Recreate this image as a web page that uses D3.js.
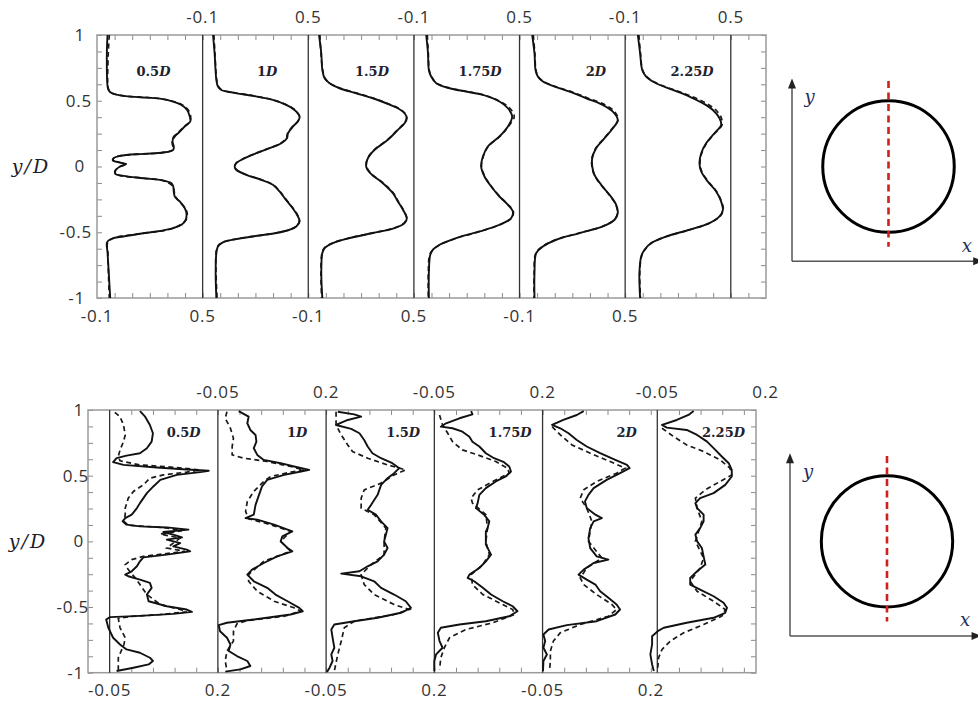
<!DOCTYPE html>
<html><head><meta charset="utf-8">
<script src="https://cdn.jsdelivr.net/npm/d3@7/dist/d3.min.js"></script>
<style>body{margin:0;background:#fff;}svg{display:block;}</style>
</head><body>
<script>
// ---------------- DATA ----------------
const stations = ["0.5", "1", "1.5", "1.75", "2", "2.25"];   // x/D
const yTickLabels = [1, 0.5, 0, -0.5, -1];
const topXRange = [-0.1, 0.5];
const botXRange = [-0.05, 0.2];
const topXLabels = ["-0.1", "0.5"];
const botXLabels = ["-0.05", "0.2"];

// each point: [y/D, value]
const top05Solid = [[1.0,-0.040],[0.86,-0.044],[0.61,-0.040],[0.58,-0.034],[0.557,-0.015],[0.537,0.050],[0.527,0.145],[0.516,0.257],[0.494,0.333],[0.468,0.380],[0.430,0.412],[0.380,0.427],[0.342,0.430],[0.304,0.398],[0.253,0.361],[0.228,0.336],[0.190,0.329],[0.152,0.336],[0.127,0.333],[0.106,0.276],[0.096,0.163],[0.081,0.032],[0.063,-0.006],[0.046,-0.010],[0.030,0.032],[0.018,0.066],[0.000,0.032],[-0.030,0.004],[-0.056,0.004],[-0.071,0.050],[-0.089,0.163],[-0.106,0.276],[-0.127,0.323],[-0.152,0.333],[-0.190,0.336],[-0.228,0.342],[-0.266,0.370],[-0.316,0.398],[-0.354,0.408],[-0.405,0.404],[-0.443,0.380],[-0.468,0.333],[-0.494,0.239],[-0.511,0.145],[-0.532,0.050],[-0.544,-0.006],[-0.562,-0.034],[-0.582,-0.044],[-0.658,-0.040],[-1.0,-0.025]];
const top05Dashed = [[1.0,-0.030],[0.86,-0.036],[0.61,-0.038],[0.58,-0.032],[0.557,-0.012],[0.537,0.055],[0.516,0.260],[0.494,0.335],[0.468,0.385],[0.430,0.418],[0.380,0.432],[0.342,0.428],[0.304,0.396],[0.253,0.358],[0.190,0.327],[0.127,0.331],[0.106,0.270],[0.081,0.030],[0.063,-0.004],[0.046,-0.008],[0.018,0.062],[0.000,0.030],[-0.030,0.006],[-0.056,0.006],[-0.089,0.160],[-0.106,0.272],[-0.152,0.331],[-0.228,0.345],[-0.316,0.400],[-0.354,0.412],[-0.405,0.406],[-0.468,0.335],[-0.511,0.148],[-0.544,-0.004],[-0.582,-0.040],[-0.658,-0.038],[-0.85,-0.034],[-1.0,-0.030]];
const top1Solid = [[1.0,-0.041],[0.861,-0.032],[0.658,-0.022],[0.608,-0.013],[0.582,0.006],[0.562,0.072],[0.537,0.186],[0.506,0.299],[0.468,0.375],[0.430,0.422],[0.380,0.451],[0.342,0.441],[0.304,0.413],[0.253,0.385],[0.215,0.379],[0.177,0.347],[0.139,0.280],[0.101,0.205],[0.063,0.139],[0.025,0.091],[0.000,0.082],[-0.025,0.091],[-0.063,0.148],[-0.101,0.233],[-0.139,0.299],[-0.190,0.337],[-0.241,0.366],[-0.304,0.404],[-0.367,0.436],[-0.418,0.451],[-0.456,0.432],[-0.481,0.394],[-0.506,0.318],[-0.532,0.186],[-0.552,0.091],[-0.577,0.015],[-0.608,-0.013],[-0.658,-0.022],[-0.810,-0.026],[-1.0,-0.022]];
const top1Dashed = [[1.0,-0.036],[0.861,-0.030],[0.658,-0.020],[0.608,-0.010],[0.582,0.010],[0.562,0.076],[0.537,0.190],[0.506,0.302],[0.468,0.378],[0.430,0.425],[0.380,0.449],[0.342,0.440],[0.304,0.410],[0.253,0.383],[0.215,0.375],[0.177,0.344],[0.139,0.278],[0.101,0.203],[0.063,0.137],[0.025,0.090],[0.000,0.084],[-0.025,0.093],[-0.063,0.150],[-0.101,0.235],[-0.139,0.300],[-0.190,0.339],[-0.241,0.368],[-0.304,0.406],[-0.367,0.438],[-0.418,0.449],[-0.456,0.430],[-0.481,0.392],[-0.506,0.315],[-0.532,0.183],[-0.552,0.088],[-0.577,0.013],[-0.608,-0.015],[-0.658,-0.024],[-0.810,-0.024],[-1.0,-0.018]];
const top15Solid = [[1.0,-0.039],[0.861,-0.026],[0.734,-0.020],[0.671,-0.007],[0.633,0.021],[0.595,0.078],[0.557,0.173],[0.519,0.267],[0.481,0.343],[0.443,0.409],[0.405,0.447],[0.367,0.460],[0.329,0.447],[0.278,0.409],[0.203,0.352],[0.127,0.277],[0.063,0.239],[0.000,0.229],[-0.051,0.252],[-0.127,0.324],[-0.203,0.381],[-0.266,0.409],[-0.329,0.438],[-0.392,0.460],[-0.430,0.447],[-0.468,0.390],[-0.506,0.267],[-0.544,0.135],[-0.582,0.040],[-0.620,-0.007],[-0.658,-0.020],[-0.810,-0.026],[-1.0,-0.020]];
const top15Dashed = [[1.0,-0.034],[0.861,-0.028],[0.734,-0.018],[0.671,-0.005],[0.633,0.024],[0.595,0.082],[0.557,0.177],[0.519,0.271],[0.481,0.347],[0.443,0.412],[0.405,0.449],[0.367,0.458],[0.329,0.444],[0.278,0.406],[0.203,0.349],[0.127,0.275],[0.063,0.237],[0.000,0.231],[-0.051,0.255],[-0.127,0.327],[-0.203,0.384],[-0.266,0.411],[-0.329,0.440],[-0.392,0.458],[-0.430,0.444],[-0.468,0.387],[-0.506,0.264],[-0.544,0.132],[-0.582,0.038],[-0.620,-0.009],[-0.658,-0.022],[-0.810,-0.028],[-1.0,-0.024]];
const top175Solid = [[1.0,-0.030],[0.861,-0.020],[0.734,-0.015],[0.684,-0.002],[0.633,0.027],[0.595,0.103],[0.570,0.197],[0.544,0.292],[0.494,0.386],[0.443,0.434],[0.380,0.458],[0.304,0.434],[0.228,0.386],[0.152,0.320],[0.076,0.292],[0.000,0.282],[-0.076,0.301],[-0.152,0.339],[-0.228,0.386],[-0.291,0.434],[-0.342,0.462],[-0.392,0.453],[-0.443,0.386],[-0.494,0.273],[-0.544,0.140],[-0.595,0.046],[-0.633,0.008],[-0.671,-0.007],[-0.810,-0.015],[-1.0,-0.015]];
const top175Dashed = [[1.0,-0.024],[0.861,-0.018],[0.734,-0.013],[0.684,0.000],[0.633,0.030],[0.595,0.107],[0.570,0.200],[0.544,0.296],[0.494,0.390],[0.443,0.445],[0.380,0.470],[0.304,0.436],[0.228,0.388],[0.152,0.322],[0.076,0.294],[0.000,0.284],[-0.076,0.303],[-0.152,0.341],[-0.228,0.388],[-0.291,0.436],[-0.342,0.465],[-0.392,0.455],[-0.443,0.388],[-0.494,0.275],[-0.544,0.143],[-0.595,0.049],[-0.633,0.010],[-0.671,-0.010],[-0.810,-0.018],[-1.0,-0.018]];
const top2Solid = [[1.0,-0.028],[0.861,-0.015],[0.734,-0.009],[0.684,0.004],[0.646,0.033],[0.608,0.099],[0.570,0.184],[0.519,0.279],[0.468,0.373],[0.418,0.430],[0.354,0.458],[0.291,0.430],[0.215,0.383],[0.139,0.335],[0.063,0.313],[0.000,0.313],[-0.063,0.326],[-0.139,0.364],[-0.215,0.411],[-0.291,0.449],[-0.354,0.458],[-0.405,0.440],[-0.456,0.373],[-0.506,0.241],[-0.557,0.108],[-0.608,0.033],[-0.658,-0.005],[-0.810,-0.015],[-1.0,-0.015]];
const top2Dashed = [[1.0,-0.022],[0.861,-0.013],[0.734,-0.007],[0.684,0.006],[0.646,0.036],[0.608,0.104],[0.570,0.192],[0.519,0.290],[0.468,0.388],[0.418,0.440],[0.354,0.460],[0.291,0.428],[0.215,0.381],[0.139,0.333],[0.063,0.311],[0.000,0.311],[-0.063,0.324],[-0.139,0.362],[-0.215,0.409],[-0.291,0.447],[-0.354,0.456],[-0.405,0.438],[-0.456,0.371],[-0.506,0.239],[-0.557,0.106],[-0.608,0.031],[-0.658,-0.007],[-0.810,-0.017],[-1.0,-0.017]];
const top225Solid = [[1.0,-0.028],[0.861,-0.015],[0.734,-0.003],[0.684,0.019],[0.633,0.076],[0.582,0.171],[0.532,0.265],[0.481,0.341],[0.430,0.398],[0.367,0.436],[0.316,0.445],[0.253,0.407],[0.177,0.360],[0.101,0.332],[0.025,0.322],[-0.038,0.332],[-0.114,0.369],[-0.190,0.417],[-0.266,0.445],[-0.329,0.455],[-0.380,0.436],[-0.430,0.379],[-0.481,0.265],[-0.532,0.133],[-0.582,0.048],[-0.633,0.010],[-0.684,-0.009],[-0.810,-0.019],[-1.0,-0.015]];
const top225Dashed = [[1.0,-0.022],[0.861,-0.013],[0.734,-0.001],[0.684,0.022],[0.633,0.080],[0.582,0.180],[0.532,0.280],[0.481,0.360],[0.430,0.415],[0.367,0.447],[0.316,0.450],[0.253,0.410],[0.177,0.362],[0.101,0.335],[0.025,0.325],[-0.038,0.335],[-0.114,0.372],[-0.190,0.419],[-0.266,0.447],[-0.329,0.457],[-0.380,0.438],[-0.430,0.381],[-0.481,0.268],[-0.532,0.136],[-0.582,0.050],[-0.633,0.012],[-0.684,-0.007],[-0.810,-0.017],[-1.0,-0.013]];

const bot05Solid = [[0.992,0.020],[0.949,0.032],[0.886,0.043],[0.823,0.050],[0.759,0.047],[0.709,0.036],[0.671,0.020],[0.653,-0.011],[0.633,-0.034],[0.603,-0.042],[0.582,-0.018],[0.562,0.059],[0.547,0.128],[0.537,0.179],[0.527,0.159],[0.506,0.105],[0.468,0.067],[0.418,0.051],[0.367,0.036],[0.329,0.028],[0.291,0.020],[0.253,0.013],[0.203,0.001],[0.177,-0.014],[0.152,-0.020],[0.127,-0.011],[0.114,0.020],[0.106,0.082],[0.089,0.132],[0.071,0.074],[0.051,0.097],[0.030,0.117],[0.013,0.082],[-0.013,0.113],[-0.038,0.097],[-0.063,0.128],[-0.076,0.136],[-0.101,0.082],[-0.122,0.028],[-0.152,0.020],[-0.190,0.013],[-0.228,0.001],[-0.253,-0.014],[-0.266,-0.007],[-0.291,0.020],[-0.316,0.043],[-0.354,0.047],[-0.405,0.036],[-0.456,0.040],[-0.494,0.082],[-0.519,0.128],[-0.537,0.140],[-0.552,0.097],[-0.567,0.020],[-0.577,-0.049],[-0.595,-0.058],[-0.658,-0.053],[-0.734,-0.042],[-0.785,-0.026],[-0.823,-0.011],[-0.848,0.020],[-0.886,0.043],[-0.911,0.050],[-0.937,0.040],[-0.962,0.005],[-0.987,-0.034]];
const bot05Dashed = [[0.982,-0.038],[0.949,-0.026],[0.886,-0.018],[0.810,-0.014],[0.759,-0.018],[0.696,-0.026],[0.646,-0.030],[0.613,-0.026],[0.582,0.020],[0.562,0.105],[0.544,0.159],[0.527,0.128],[0.506,0.074],[0.481,0.043],[0.430,0.028],[0.380,0.005],[0.329,-0.007],[0.253,-0.014],[0.203,-0.014],[0.152,-0.017],[0.122,-0.007],[0.106,0.074],[0.081,0.117],[0.056,0.067],[0.025,0.113],[-0.013,0.097],[-0.051,0.082],[-0.076,0.124],[-0.114,0.028],[-0.139,0.001],[-0.177,-0.014],[-0.215,-0.007],[-0.278,0.009],[-0.329,0.020],[-0.405,0.036],[-0.481,0.067],[-0.519,0.113],[-0.537,0.128],[-0.557,0.067],[-0.572,-0.003],[-0.587,-0.030],[-0.658,-0.026],[-0.734,-0.014],[-0.785,-0.017],[-0.886,-0.030],[-0.987,-0.030]];
const bot1Solid = [[0.992,-0.002],[0.949,0.021],[0.899,0.018],[0.848,0.025],[0.810,0.037],[0.759,0.039],[0.709,0.033],[0.658,0.041],[0.620,0.056],[0.595,0.095],[0.570,0.126],[0.544,0.161],[0.532,0.142],[0.506,0.103],[0.468,0.064],[0.418,0.052],[0.354,0.045],[0.278,0.037],[0.203,0.033],[0.177,0.014],[0.165,0.041],[0.127,0.080],[0.089,0.111],[0.076,0.122],[0.038,0.099],[0.000,0.095],[-0.051,0.111],[-0.076,0.122],[-0.114,0.087],[-0.165,0.056],[-0.215,0.029],[-0.253,0.018],[-0.304,0.033],[-0.354,0.064],[-0.405,0.083],[-0.456,0.111],[-0.506,0.138],[-0.532,0.146],[-0.557,0.118],[-0.595,0.033],[-0.620,-0.029],[-0.638,-0.048],[-0.684,-0.045],[-0.734,-0.029],[-0.785,-0.021],[-0.835,-0.025],[-0.873,-0.006],[-0.911,0.018],[-0.949,0.025],[-0.975,0.002],[-0.992,-0.033]];
const bot1Dashed = [[0.987,-0.029],[0.937,-0.033],[0.861,-0.021],[0.785,-0.014],[0.722,-0.017],[0.658,-0.017],[0.633,0.010],[0.608,0.064],[0.570,0.118],[0.544,0.149],[0.527,0.118],[0.494,0.072],[0.456,0.056],[0.380,0.033],[0.304,0.018],[0.228,0.014],[0.172,0.021],[0.127,0.072],[0.076,0.118],[0.000,0.095],[-0.076,0.118],[-0.152,0.056],[-0.253,0.021],[-0.304,0.021],[-0.380,0.041],[-0.456,0.080],[-0.506,0.126],[-0.532,0.142],[-0.570,0.103],[-0.603,0.018],[-0.628,-0.006],[-0.684,-0.014],[-0.759,-0.014],[-0.835,-0.029],[-0.911,-0.033],[-0.987,-0.029]];
const bot15Solid = [[0.987,-0.023],[0.967,0.015],[0.949,0.031],[0.924,0.000],[0.886,-0.027],[0.856,0.008],[0.823,0.027],[0.772,0.038],[0.722,0.046],[0.671,0.057],[0.633,0.077],[0.595,0.103],[0.557,0.119],[0.519,0.107],[0.481,0.092],[0.430,0.077],[0.354,0.069],[0.278,0.054],[0.241,0.046],[0.203,0.065],[0.152,0.077],[0.101,0.092],[0.051,0.088],[0.000,0.084],[-0.051,0.092],[-0.101,0.084],[-0.152,0.069],[-0.190,0.046],[-0.228,0.027],[-0.246,-0.015],[-0.266,0.031],[-0.304,0.061],[-0.354,0.077],[-0.405,0.107],[-0.456,0.134],[-0.506,0.146],[-0.544,0.123],[-0.582,0.069],[-0.608,0.015],[-0.633,-0.031],[-0.671,-0.038],[-0.734,-0.035],[-0.810,-0.031],[-0.861,-0.038],[-0.911,-0.035],[-0.962,-0.042],[-0.995,-0.048]];
const bot15Dashed = [[0.987,-0.027],[0.886,-0.027],[0.810,-0.015],[0.734,0.000],[0.684,0.011],[0.633,0.046],[0.582,0.092],[0.544,0.134],[0.506,0.107],[0.443,0.077],[0.392,0.038],[0.329,0.031],[0.253,0.031],[0.203,0.061],[0.101,0.088],[0.000,0.084],[-0.101,0.084],[-0.177,0.054],[-0.253,0.031],[-0.329,0.038],[-0.405,0.061],[-0.481,0.107],[-0.519,0.142],[-0.557,0.107],[-0.608,0.015],[-0.658,-0.008],[-0.759,-0.015],[-0.861,-0.023],[-0.987,-0.031]];
const bot175Solid = [[0.992,0.035],[0.967,0.038],[0.937,0.008],[0.899,-0.023],[0.873,-0.035],[0.861,-0.008],[0.835,0.015],[0.797,0.031],[0.759,0.038],[0.722,0.054],[0.671,0.069],[0.633,0.088],[0.603,0.111],[0.570,0.123],[0.532,0.127],[0.494,0.115],[0.456,0.092],[0.405,0.069],[0.354,0.054],[0.291,0.050],[0.253,0.046],[0.203,0.065],[0.152,0.077],[0.101,0.073],[0.076,0.069],[0.025,0.069],[-0.025,0.069],[-0.101,0.081],[-0.152,0.069],[-0.203,0.054],[-0.253,0.031],[-0.278,0.027],[-0.304,0.042],[-0.354,0.062],[-0.405,0.081],[-0.456,0.108],[-0.494,0.131],[-0.532,0.142],[-0.570,0.123],[-0.608,0.069],[-0.633,0.008],[-0.658,-0.035],[-0.696,-0.042],[-0.759,-0.038],[-0.810,-0.031],[-0.861,-0.046],[-0.911,-0.050],[-0.987,-0.050]];
const bot175Dashed = [[0.962,-0.038],[0.886,-0.031],[0.823,-0.019],[0.759,-0.008],[0.696,0.015],[0.658,0.050],[0.608,0.092],[0.557,0.119],[0.519,0.123],[0.456,0.085],[0.392,0.050],[0.329,0.035],[0.291,0.038],[0.203,0.069],[0.101,0.073],[0.000,0.069],[-0.101,0.077],[-0.177,0.062],[-0.253,0.035],[-0.329,0.038],[-0.405,0.062],[-0.481,0.108],[-0.519,0.131],[-0.557,0.135],[-0.620,0.085],[-0.671,0.023],[-0.734,-0.015],[-0.810,-0.027],[-0.886,-0.035],[-0.975,-0.038]];
const bot2Solid = [[0.992,0.045],[0.962,0.029],[0.924,-0.002],[0.886,-0.028],[0.861,-0.009],[0.823,0.010],[0.772,0.029],[0.722,0.052],[0.671,0.083],[0.620,0.118],[0.582,0.145],[0.557,0.151],[0.519,0.129],[0.468,0.098],[0.405,0.068],[0.354,0.056],[0.304,0.048],[0.253,0.052],[0.203,0.072],[0.177,0.087],[0.152,0.068],[0.101,0.060],[0.025,0.056],[-0.051,0.060],[-0.114,0.075],[-0.139,0.102],[-0.165,0.068],[-0.215,0.045],[-0.253,0.033],[-0.291,0.052],[-0.329,0.072],[-0.380,0.083],[-0.430,0.102],[-0.481,0.121],[-0.519,0.129],[-0.557,0.118],[-0.608,0.075],[-0.638,0.006],[-0.671,-0.036],[-0.709,-0.048],[-0.759,-0.044],[-0.810,-0.048],[-0.861,-0.040],[-0.911,-0.048],[-0.987,-0.049]];
const bot2Dashed = [[0.873,-0.028],[0.810,-0.009],[0.734,0.018],[0.671,0.060],[0.608,0.106],[0.557,0.141],[0.519,0.121],[0.456,0.075],[0.392,0.045],[0.329,0.037],[0.253,0.052],[0.152,0.064],[0.000,0.056],[-0.127,0.087],[-0.203,0.052],[-0.278,0.037],[-0.329,0.045],[-0.405,0.075],[-0.481,0.110],[-0.519,0.121],[-0.570,0.102],[-0.633,0.037],[-0.696,-0.009],[-0.759,-0.025],[-0.835,-0.032],[-0.911,-0.032],[-0.987,-0.034]];
const bot225Solid = [[0.992,0.034],[0.962,0.022],[0.924,-0.005],[0.886,-0.039],[0.866,-0.028],[0.848,0.018],[0.810,0.042],[0.759,0.065],[0.696,0.084],[0.646,0.099],[0.595,0.115],[0.544,0.122],[0.494,0.122],[0.430,0.107],[0.367,0.080],[0.329,0.049],[0.291,0.038],[0.253,0.042],[0.203,0.057],[0.152,0.057],[0.101,0.049],[0.051,0.038],[0.000,0.042],[-0.051,0.053],[-0.114,0.057],[-0.177,0.061],[-0.228,0.042],[-0.278,0.026],[-0.329,0.026],[-0.367,0.049],[-0.418,0.080],[-0.468,0.103],[-0.506,0.111],[-0.544,0.107],[-0.582,0.080],[-0.620,0.018],[-0.658,-0.035],[-0.684,-0.049],[-0.722,-0.062],[-0.785,-0.062],[-0.861,-0.066],[-0.937,-0.062],[-0.987,-0.058]];
const bot225Dashed = [[0.861,-0.039],[0.797,-0.012],[0.734,0.018],[0.684,0.057],[0.620,0.095],[0.557,0.118],[0.506,0.122],[0.456,0.095],[0.392,0.061],[0.329,0.038],[0.253,0.042],[0.152,0.053],[0.000,0.038],[-0.127,0.057],[-0.203,0.049],[-0.304,0.026],[-0.380,0.042],[-0.456,0.080],[-0.519,0.107],[-0.570,0.099],[-0.633,0.057],[-0.696,0.011],[-0.759,-0.020],[-0.823,-0.039],[-0.886,-0.047],[-0.962,-0.049]];

const topSolid = [top05Solid, top1Solid, top15Solid, top175Solid, top2Solid, top225Solid];
const topDashed = [top05Dashed, top1Dashed, top15Dashed, top175Dashed, top2Dashed, top225Dashed];
const botSolid = [bot05Solid, bot1Solid, bot15Solid, bot175Solid, bot2Solid, bot225Solid];
const botDashed = [bot05Dashed, bot1Dashed, bot15Dashed, bot175Dashed, bot2Dashed, bot225Dashed];

// ---------------- LAYOUT ----------------
const W = 978, H = 704;
const svg = d3.select("body").append("svg").attr("width", W).attr("height", H);
const tickFont = "'Open Sans', sans-serif";
const mathFont = "'DejaVu Serif', serif";

function drawChart(c) {
  const g = svg.append("g");
  const xg = d3.scaleLinear().domain([0, c.span]).range([c.left, c.right]);
  const y = d3.scaleLinear().domain([-1, 1]).range([c.bottom, c.top]);
  const px = (i, v) => xg(c.panelLeft[i] + v - c.range[0]);

  svg.append("clipPath").attr("id", "clip" + c.id).append("rect")
    .attr("x", c.left).attr("y", c.top).attr("width", c.right - c.left).attr("height", c.bottom - c.top);

  // minor ticks
  const styleAxis = s => { s.select(".domain").remove(); s.selectAll(".tick line").attr("stroke", "#8a8a8a").attr("stroke-width", 1); };
  g.append("g").attr("transform", `translate(0,${c.bottom})`)
    .call(d3.axisBottom(xg).tickValues(c.xTicks).tickSize(-5).tickFormat("")).call(styleAxis);
  g.append("g").attr("transform", `translate(0,${c.top})`)
    .call(d3.axisTop(xg).tickValues(c.xTicks).tickSize(-5).tickFormat("")).call(styleAxis);
  const yMinor = d3.range(-8, 9).map(k => k / 8);
  g.append("g").attr("transform", `translate(${c.left},0)`)
    .call(d3.axisLeft(y).tickValues(yMinor).tickSize(-5).tickFormat("")).call(styleAxis);
  g.append("g").attr("transform", `translate(${c.right},0)`)
    .call(d3.axisRight(y).tickValues(yMinor).tickSize(-5).tickFormat("")).call(styleAxis);

  // frame
  g.append("rect").attr("x", c.left).attr("y", c.top).attr("width", c.right - c.left).attr("height", c.bottom - c.top)
    .attr("fill", "none").attr("stroke", "#9a9a9a").attr("stroke-width", 1.5);

  // panel separators
  c.separators.forEach(u => {
    g.append("line").attr("x1", xg(u)).attr("x2", xg(u)).attr("y1", c.top).attr("y2", c.bottom)
      .attr("stroke", "#333").attr("stroke-width", 1.3);
  });

  // curves
  const cg = g.append("g").attr("clip-path", `url(#clip${c.id})`);
  stations.forEach((s, i) => {
    const line = d3.line().x(d => px(i, d[1])).y(d => y(d[0])).curve(c.curve);
    cg.append("path").attr("d", line(c.dashed[i])).attr("fill", "none").attr("stroke", "#1a1a1a")
      .attr("stroke-width", 1.7).attr("stroke-dasharray", "5,3.5");
    cg.append("path").attr("d", line(c.solid[i])).attr("fill", "none").attr("stroke", "#111")
      .attr("stroke-width", 1.9).attr("stroke-linejoin", "round");
  });

  // station labels
  stations.forEach((s, i) => {
    const t = g.append("text").attr("x", px(i, c.labelX[i])).attr("y", y(c.labelY)).attr("dy", "0.35em")
      .attr("text-anchor", "middle").attr("font-family", mathFont).attr("font-size", 13)
      .attr("font-weight", "bold").attr("fill", "#22222e");
    t.append("tspan").text(s);
    t.append("tspan").attr("font-style", "italic").text("D");
  });

  // x tick labels
  stations.forEach((s, i) => {
    const below = i % 2 === 0;
    const ly = below ? c.bottomLabelY : c.topLabelY;
    [0, 1].forEach(k => {
      g.append("text").attr("x", px(i, c.range[k])).attr("y", ly).attr("dy", "0.35em")
        .attr("text-anchor", "middle").attr("font-family", tickFont).attr("font-size", 17)
        .attr("letter-spacing", 0.8).attr("fill", "#333").text(c.xLabels[k]);
    });
  });

  // y tick labels
  yTickLabels.forEach(v => {
    const isInt = Number.isInteger(v);
    g.append("text").attr("x", isInt ? c.intEnd : c.decEnd).attr("y", y(v)).attr("dy", "0.35em")
      .attr("text-anchor", "end").attr("font-family", tickFont).attr("font-size", 17)
      .attr("letter-spacing", 0.8).attr("fill", "#333").text(String(v));
  });

  // y/D label
  g.append("text").attr("x", c.yTitleX).attr("y", y(0)).attr("dy", "0.35em").attr("text-anchor", "middle")
    .attr("font-family", mathFont).attr("font-size", 19).attr("font-style", "italic").attr("fill", "#1c1c28")
    .attr("letter-spacing", 2).text("y/D");

  return y;
}

function drawDiagram(y, cx, axisX) {
  const unit = y(0) - y(1);
  const dx = d3.scaleLinear().domain([0, 1]).range([cx, cx + unit]);
  const g = svg.append("g");
  const x0 = axisX, y0 = y(-0.72), yTop = y(0.67), xEnd = dx(0.72);
  g.append("line").attr("x1", x0).attr("x2", x0).attr("y1", y0).attr("y2", yTop + 8)
    .attr("stroke", "#555").attr("stroke-width", 1.5);
  g.append("line").attr("x1", x0).attr("x2", xEnd - 8).attr("y1", y0).attr("y2", y0)
    .attr("stroke", "#555").attr("stroke-width", 1.5);
  g.append("path").attr("d", `M${x0},${yTop} L${x0 - 4},${yTop + 10} L${x0 + 4},${yTop + 10} Z`).attr("fill", "#222");
  g.append("path").attr("d", `M${xEnd},${y0} L${xEnd - 10},${y0 - 4} L${xEnd - 10},${y0 + 4} Z`).attr("fill", "#222");
  g.append("circle").attr("cx", dx(0)).attr("cy", y(0)).attr("r", dx(0.5) - dx(0))
    .attr("fill", "none").attr("stroke", "#000").attr("stroke-width", 3);
  g.append("line").attr("x1", dx(0)).attr("x2", dx(0)).attr("y1", y(0.65)).attr("y2", y(-0.61))
    .attr("stroke", "#d0201c").attr("stroke-width", 2.6).attr("stroke-dasharray", "7,4.5");
  g.append("text").attr("x", dx(-0.6)).attr("y", y(0.53)).attr("dy", "0.35em").attr("text-anchor", "middle")
    .attr("font-family", mathFont).attr("font-style", "italic").attr("font-size", 18).attr("fill", "#1f2f5c").text("y");
  g.append("text").attr("x", dx(0.595)).attr("y", y(-0.6)).attr("dy", "0.35em").attr("text-anchor", "middle")
    .attr("font-family", mathFont).attr("font-style", "italic").attr("font-size", 18).attr("fill", "#1f2f5c").text("x");
}

// top chart
const topPanelLeft = [0, 0.6, 1.2, 1.8, 2.4, 3.0];
const yTop = drawChart({
  id: "top", left: 97, right: 766, top: 35, bottom: 298, span: 3.8,
  range: topXRange, panelLeft: topPanelLeft,
  xTicks: d3.range(1, 38).map(k => k / 10),
  separators: topPanelLeft.map(p => p + 0.6),
  solid: topSolid, dashed: topDashed,
  curve: d3.curveCatmullRom.alpha(0.5),
  labelX: [0.221, 0.266, 0.262, 0.276, 0.334, 0.280], labelY: 0.72,
  xLabels: topXLabels, topLabelY: 17, bottomLabelY: 316,
  decEnd: 92, intEnd: 85, yTitleX: 31
});
drawDiagram(yTop, 888.5, 792);

// bottom chart
const botPanelLeft = [0.05, 0.30, 0.55, 0.80, 1.05, 1.315];
const yBot = drawChart({
  id: "bot", left: 88, right: 756, top: 410, bottom: 672.7, span: 1.543,
  range: botXRange, panelLeft: botPanelLeft,
  xTicks: botPanelLeft.flatMap(p => d3.range(1, 6).map(k => p + k * 0.05)).filter(u => u < 1.54),
  separators: botPanelLeft,
  solid: botSolid, dashed: botDashed,
  curve: d3.curveLinear,
  labelX: [0.121, 0.133, 0.128, 0.125, 0.144, 0.103], labelY: 0.83,
  xLabels: botXLabels, topLabelY: 392, bottomLabelY: 690,
  decEnd: 89, intEnd: 84, yTitleX: 28
});
drawDiagram(yBot, 887, 790);
</script>
</body></html>
